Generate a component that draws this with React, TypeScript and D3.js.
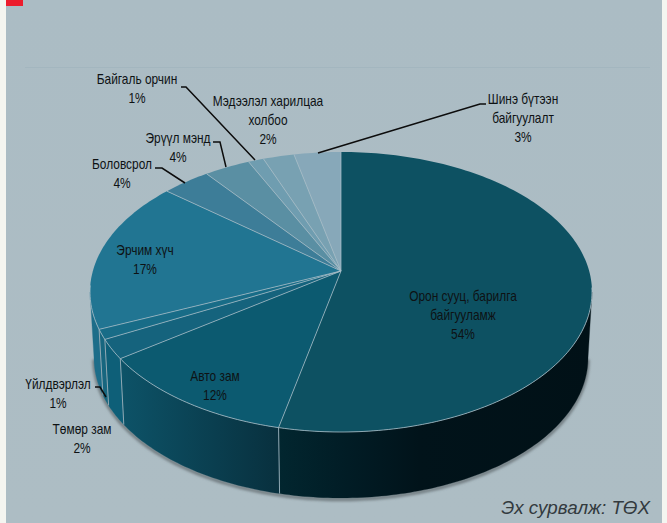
import React from 'react';
import * as d3 from 'd3';

const categories = ['Орон сууц, барилга байгууламж', 'Авто зам', 'Төмөр зам', 'Үйлдвэрлэл', 'Эрчим хүч', 'Боловсрол', 'Эрүүл мэнд', 'Байгаль орчин', 'Мэдээлэл харилцаа холбоо', 'Шинэ бүтээн байгуулалт'];
// share of the circle each slice visibly occupies
const shares = [54, 13.1, 2.4, 1.2, 17.1, 3.2, 3, 1, 2, 3];
// the printed labels
const percentLabels = ['54%', '12%', '2%', '1%', '17%', '4%', '4%', '1%', '2%', '3%'];
const topColors = ['#0d5162', '#0c5a70', '#15637d', '#186c87', '#217592', '#3d7d98', '#5a8fa3', '#6f9db0', '#78a1b2', '#87a8b9'];
const labelLines = [
  ['Орон сууц, барилга', 'байгууламж'], ['Авто зам'], ['Төмөр зам'], ['Үйлдвэрлэл'], ['Эрчим хүч'],
  ['Боловсрол'], ['Эрүүл мэнд'], ['Байгаль орчин'], ['Мэдээлэл харилцаа', 'холбоо'], ['Шинэ бүтээн', 'байгуулалт'],
];
const labelAnchor: [number, number][] = [[463, 296], [215, 376], [82, 429], [58, 384], [145, 250], [122, 164], [178, 138], [137, 79], [268, 101], [523, 99]];
// leader elbows: [start, elbow, end-on-rim]
const leaders: [number, number][][] = [
  [[155, 168], [162, 168], [185, 183]],
  [[213, 142], [220, 142], [226, 167]],
  [[181, 87], [186, 87], [255, 160]],
  [[486, 104], [480, 104], [318, 153]],
  [[95, 387], [100, 387], [106, 397]],
];

const W = 667, H = 523;
const hub = { x: 341, y: 271 };
const top = { cx: 341, cy: 292, rx: 251, ry: 140 };
const bot = { cx: 341, cy: 358, rx: 247, ry: 140 };
const onEllipse = (e: typeof top, t: number): [number, number] => [e.cx + e.rx * Math.sin(t), e.cy - e.ry * Math.cos(t)];

const pie = d3.pie<number>().value(d => d).sort(null);
const arcs = pie(shares);
const line = d3.line<[number, number]>();
const samples = (a: number, b: number) => {
  const n = Math.max(2, Math.ceil(Math.abs(b - a) / 0.02));
  return d3.range(n + 1).map(i => a + (b - a) * i / n);
};
const slicePath = (a: number, b: number) => line([[hub.x, hub.y], ...samples(a, b).map(t => onEllipse(top, t))]) + 'Z';
const sidePath = (a: number, b: number) =>
  line([...samples(a, b).map(t => onEllipse(top, t)), ...samples(b, a).map(t => onEllipse(bot, t))]) + 'Z';

const visA = Math.PI / 2, visB = Math.PI * 1.5;
const sideFill = ['url(#sideA)', 'url(#sideB)', '#0e5f78', '#17667f', '#1d6d89'];
const font = "'Liberation Sans', sans-serif";

export default function App() {
  return (
    <svg width={W} height={H} viewBox={`0 0 ${W} ${H}`} style={{ position: 'absolute', left: 0, top: 0, display: 'block' }}>
      <defs>
        <linearGradient id="bg" x1="0" y1="0" x2="0" y2="1">
          <stop offset="0" stopColor="#abbcc4" />
          <stop offset="1" stopColor="#adbdc4" />
        </linearGradient>
        <linearGradient id="sideA" gradientUnits="userSpaceOnUse" x1="279" y1="0" x2="592" y2="0">
          <stop offset="0" stopColor="#02262f" />
          <stop offset="0.2" stopColor="#011d26" />
          <stop offset="0.45" stopColor="#01131a" />
          <stop offset="1" stopColor="#011117" />
        </linearGradient>
        <linearGradient id="sideB" gradientUnits="userSpaceOnUse" x1="120" y1="0" x2="279" y2="0">
          <stop offset="0" stopColor="#0d5368" />
          <stop offset="1" stopColor="#08303e" />
        </linearGradient>
        <filter id="blur" x="-10%" y="-10%" width="120%" height="120%">
          <feGaussianBlur stdDeviation="1.5" />
        </filter>
      </defs>
      <rect width={W} height={H} fill="#f4f5f0" />
      <rect x={6} y={0} width={656} height={H} fill="url(#bg)" />
      <rect x={6} y={0} width={17} height={6} fill="#ec1c2c" />
      <line x1={25} x2={650} y1={67.5} y2={67.5} stroke="#a3b6bf" strokeWidth={1} />

      {/* soft shadow under the cylinder wall */}
      <path d={line(samples(visA, visB).map(t => onEllipse(bot, t))) ?? ''} transform="translate(0,1.5)" fill="none" stroke="#5d666a" strokeWidth={2.5} filter="url(#blur)" />

      {arcs.map((a, i) => {
        const s = Math.max(a.startAngle, visA), e = Math.min(a.endAngle, visB);
        if (e <= s) return null;
        return <path key={i} d={sidePath(s, e)} fill={sideFill[i] ?? topColors[i]} stroke={sideFill[i] ?? topColors[i]} strokeWidth={0.3} />;
      })}
      {arcs.slice(0, 4).map((a, i) => {
        const p = onEllipse(top, a.endAngle), q = onEllipse(bot, a.endAngle);
        return <line key={i} x1={p[0]} y1={p[1]} x2={q[0]} y2={q[1]} stroke="#8fa8b3" strokeWidth={1} />;
      })}

      {arcs.map((a, i) => <path key={i} d={slicePath(a.startAngle, a.endAngle)} fill={topColors[i]} />)}
      {arcs.map((a, i) => {
        const p = onEllipse(top, a.startAngle);
        return <line key={i} x1={hub.x} y1={hub.y} x2={p[0]} y2={p[1]} stroke="#a9bec8" strokeWidth={1} opacity={0.75} />;
      })}
      <path d={line(samples(visA * 0.98, visB * 1.01).map(t => onEllipse(top, t))) ?? ''} fill="none" stroke="#a9bec8" strokeWidth={1} opacity={0.8} />

      {leaders.map((pts, i) => <path key={i} d={line(pts) ?? ''} fill="none" stroke="#0c0c0c" strokeWidth={1.5} />)}

      {categories.map((c, i) => {
        const rows = [...labelLines[i], percentLabels[i]];
        return (
          <g key={c} transform={`translate(${labelAnchor[i][0]},${labelAnchor[i][1]}) scale(0.85,1)`}>
            {rows.map((r, j) => (
              <text key={j} x={0} y={j * 19.3} dominantBaseline="central" fontFamily={font} fontSize={14} fill="#0e1214" textAnchor="middle">{r}</text>
            ))}
          </g>
        );
      })}

      <text x={650} y={514} textAnchor="end" fontFamily={font} fontStyle="italic" fontSize={18.8} fill="#333a3e">Эх сурвалж: ТӨХ</text>
    </svg>
  );
}
